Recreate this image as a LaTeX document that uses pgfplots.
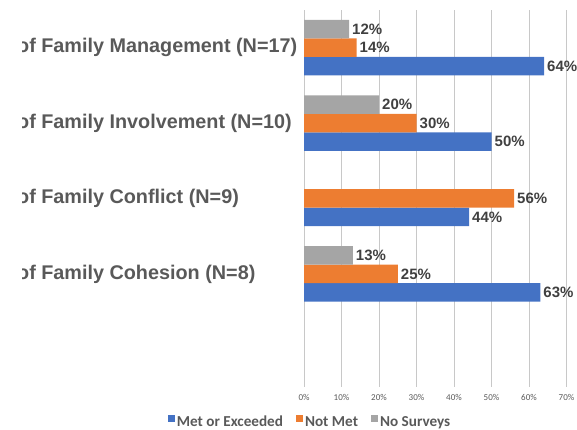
\documentclass[border=0pt]{standalone}
\usepackage{pgfplots}
\pgfplotsset{compat=1.18}
\usepackage{fontspec}
\setmainfont{Liberation Sans}
\newfontfamily\carlito{Carlito}
\definecolor{cblue}{HTML}{4472C4}
\definecolor{corange}{HTML}{ED7D31}
\definecolor{cgray}{HTML}{A5A5A5}
\definecolor{ctext}{HTML}{595959}
\definecolor{clab}{HTML}{404040}
\definecolor{cgrid}{HTML}{C8C8C8}
\begin{document}
\begin{tikzpicture}
\begin{scope}
\clip (22pt,0pt) rectangle (577pt,430pt);
\begin{axis}[
  at={(304pt,43pt)}, anchor=south west,
  scale only axis, width=262.5pt, height=377pt,
  xmin=0, xmax=70, ymin=-0.5, ymax=4.5,
  xbar, bar width=18.5pt,
  axis line style={draw=none},
  major tick length=0pt,
  xtick={0,10,20,30,40,50,60,70},
  xticklabels={0\%,10\%,20\%,30\%,40\%,50\%,60\%,70\%},
  xticklabel style={font=\carlito\fontsize{9}{10}\selectfont, text=ctext, yshift=-4pt},
  ytick={1,2,3,4},
  yticklabels={of Family Cohesion (N=8), of Family Conflict (N=9), of Family Involvement (N=10), of Family Management (N=17)},
  yticklabel style={font=\bfseries\fontsize{19.8}{21}\selectfont, text=ctext, anchor=west, inner xsep=0pt, xshift=-287pt},
  xmajorgrids, major grid style={color=cgrid, line width=0.9pt},
  nodes near coords={\pgfmathprintnumber[assume math mode=true]{\pgfplotspointmeta}\%},
  nodes near coords style={anchor=west, font=\bfseries\fontsize{15}{17}\selectfont, text=clab, inner xsep=3pt},
  legend columns=3,
  legend style={at={(0.023,-0.093)}, anchor=center, draw=none, fill=none,
    font=\carlito\bfseries\fontsize{15.2}{17}\selectfont, text=ctext,
    /tikz/every even column/.append style={column sep=11pt},
    inner sep=0pt},
]
\addplot[fill=cblue, draw=none, bar shift=-18.5pt,
  legend image code/.code={\fill[cblue] (0pt,0pt) rectangle (7pt,7pt);}]
  coordinates {(63,1) (44,2) (50,3) (64,4)};
\addplot[fill=corange, draw=none, bar shift=0pt,
  legend image code/.code={\fill[corange] (0pt,0pt) rectangle (7pt,7pt);}]
  coordinates {(25,1) (56,2) (30,3) (14,4)};
\addplot[fill=cgray, draw=none, bar shift=18.5pt,
  legend image code/.code={\fill[cgray] (0pt,0pt) rectangle (7pt,7pt);}]
  coordinates {(13,1) (20,3) (12,4)};
\legend{Met or Exceeded, Not Met, No Surveys}
\end{axis}
\end{scope}
\pgfresetboundingbox
\useasboundingbox (0pt,0pt) rectangle (577pt,430pt);
\end{tikzpicture}
\end{document}
